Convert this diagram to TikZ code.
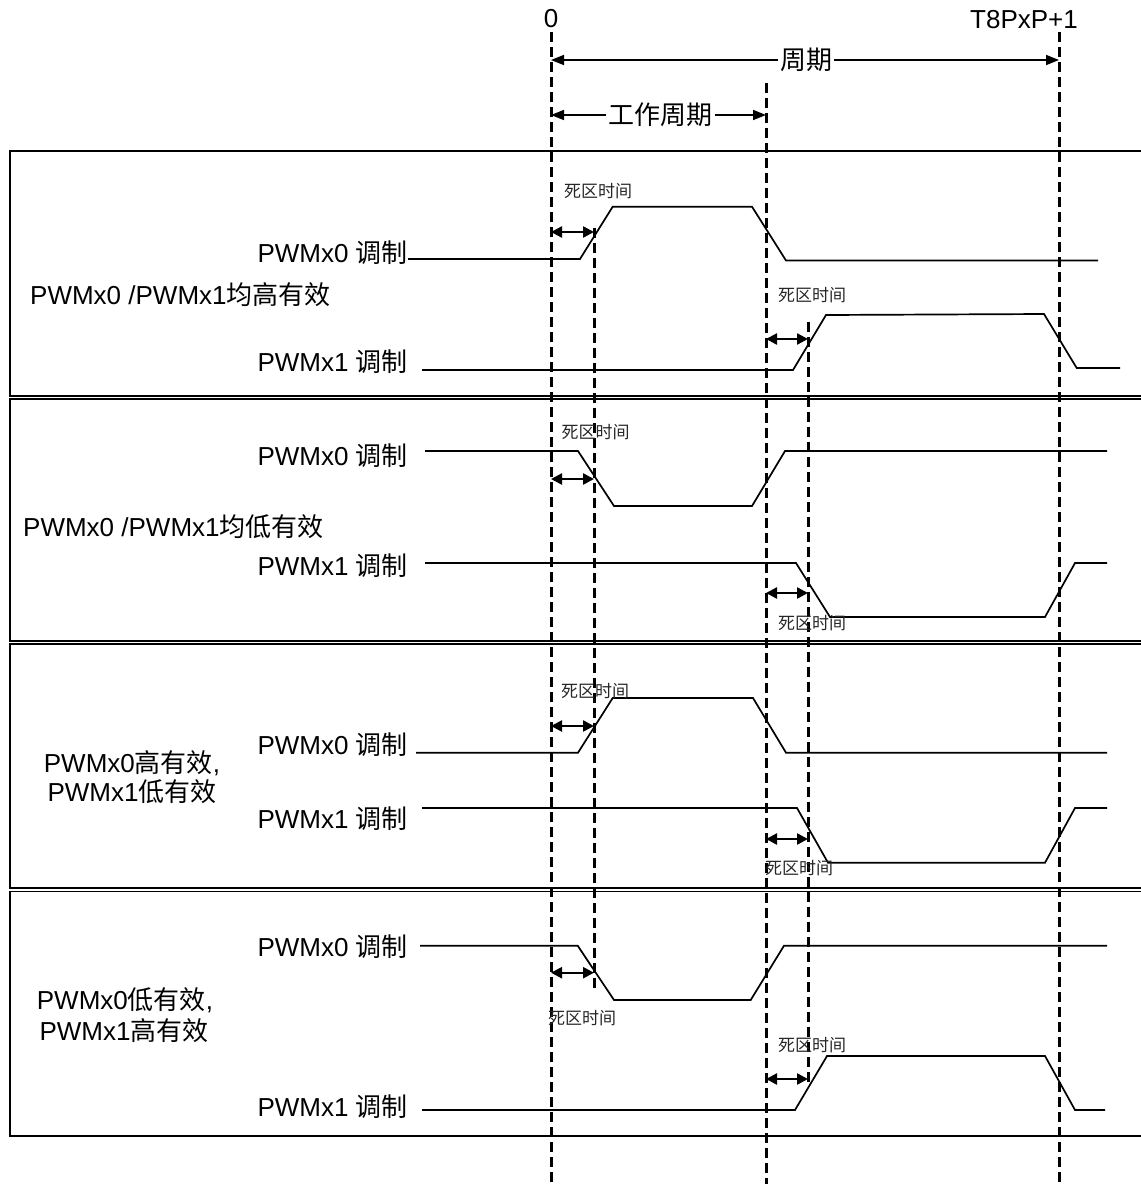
\documentclass[tikz,border=0pt]{standalone}
\usepackage{fontspec}
\setmainfont{Liberation Sans}
\newfontfamily\cjk{Noto Sans CJK SC}
\usetikzlibrary{arrows.meta}
\newcommand{\zh}[1]{{\cjk #1}}
\begin{document}
\begin{tikzpicture}[x=1pt,y=-1pt,
  wave/.style={line width=1.7pt, line join=miter},
  guide/.style={line width=3pt, dash pattern=on 10pt off 5pt},
  panel/.style={line width=1.6pt},
  dt/.style={line width=2.4pt, {Triangle[length=11pt,width=11pt]}-{Triangle[length=11pt,width=11pt]}},
  per/.style={line width=1.6pt, -{Triangle[length=13pt,width=10pt]}},
  lab/.style={font=\fontsize{26}{30}\selectfont, inner sep=0pt},
  zlab/.style={font=\cjk\fontsize{26}{30}\selectfont, inner xsep=2pt, inner ysep=0pt, fill=white},
  dtl/.style={font=\cjk\fontsize{17}{20}\selectfont, inner sep=0pt, text=black!85},
  ]
\useasboundingbox (0,0) rectangle (1141,1184);

% panels
\draw[panel] (10,151) rectangle (1175,396);
\draw[panel] (10,399) rectangle (1175,641);
\draw[panel] (10,644) rectangle (1175,888);
\draw[panel] (10,891.5) rectangle (1175,1136);

% guide lines
\draw[guide] (551,32) -- (551,1184);
\draw[guide] (1059,32) -- (1059,1184);
\draw[guide] (766,83) -- (766,1184);
\draw[guide] (594,228) -- (594,990);
\draw[guide] (808,322) -- (808,1085);

% top labels
\node[lab, anchor=base] (zero) at (551,27) {0};
\node[lab, anchor=base] (tend) at (1024,28) {T8PxP+1};

\node[zlab] (perl) at (806,60) {周期};
\coordinate (p0) at (551,60);
\coordinate (p1) at (1059,60);
\draw[per] (perl.west) -- (p0);
\draw[per] (perl.east) -- (p1);

\node[zlab] (dutyl) at (660.5,115) {工作周期};
\coordinate (d0) at (551,115);
\coordinate (d1) at (766,115);
\draw[per] (dutyl.west) -- (d0);
\draw[per] (dutyl.east) -- (d1);

% ---------- panel 1 ----------
\node[lab, anchor=base east] (a0) at (408,262.5) {PWMx0 \zh{调制}};
\node[lab, anchor=base east] (a1) at (408,371.5) {PWMx1 \zh{调制}};
\node[lab, anchor=base west] (am) at (30,304.5) {PWMx0 /PWMx1\zh{均高有效}};
\draw[wave] (408,259) -- (580,259) -- (612.7,206.7) -- (752,206.7) -- (786,260.5) -- (1098,260.5);
\draw[wave] (422,370) -- (793,370) -- (826,315) -- (1044,314) -- (1076.7,368) -- (1120,368);
\draw[dt] (551,232) -- (594,232);
\draw[dt] (766,339) -- (808,339);
\node[dtl] (a2) at (598,190.7) {死区时间};
\node[dtl] (a3) at (812,295) {死区时间};

% ---------- panel 2 ----------
\node[lab, anchor=base east] (b0) at (408,465.5) {PWMx0 \zh{调制}};
\node[lab, anchor=base east] (b1) at (408,575.5) {PWMx1 \zh{调制}};
\node[lab, anchor=base west] (bm) at (23,536.5) {PWMx0 /PWMx1\zh{均低有效}};
\draw[wave] (425,451) -- (578,451) -- (614,506) -- (752,506) -- (785,451) -- (1107,451);
\draw[wave] (425,563) -- (796,563) -- (830,617) -- (1045,617) -- (1075,563) -- (1107,563);
\draw[dt] (551,479) -- (594,479);
\draw[dt] (766,593) -- (808,593);
\node[dtl] (b2) at (595.5,432) {死区时间};
\node[dtl] (b3) at (812,623) {死区时间};

% ---------- panel 3 ----------
\node[lab, anchor=base east] (c0) at (408,754.5) {PWMx0 \zh{调制}};
\node[lab, anchor=base east] (c1) at (408,828.5) {PWMx1 \zh{调制}};
\node[lab, anchor=base] (cm1) at (132,772) {PWMx0\zh{高有效},};
\node[lab, anchor=base] (cm2) at (132,801) {PWMx1\zh{低有效}};
\draw[wave] (416,752.7) -- (578,752.7) -- (612.7,698) -- (753,698) -- (786,752.7) -- (1107,752.7);
\draw[wave] (422,808) -- (797,808) -- (828,862.7) -- (1045,862.7) -- (1075,808) -- (1107,808);
\draw[dt] (551,726) -- (594,726);
\draw[dt] (766,839) -- (808,839);
\node[dtl] (c2) at (595,690.7) {死区时间};
\node[dtl] (c3) at (799,868) {死区时间};

% ---------- panel 4 ----------
\node[lab, anchor=base east] (e0) at (408,956.5) {PWMx0 \zh{调制}};
\node[lab, anchor=base east] (e1) at (408,1116.5) {PWMx1 \zh{调制}};
\node[lab, anchor=base] (em1) at (125,1009.5) {PWMx0\zh{低有效},};
\node[lab, anchor=base] (em2) at (124,1040.5) {PWMx1\zh{高有效}};
\draw[wave] (420,945.7) -- (577.7,945.7) -- (614,1000) -- (750.7,1000) -- (784,945.7) -- (1107,945.7);
\draw[wave] (422,1110) -- (795,1110) -- (827,1056) -- (1045,1056) -- (1075,1110) -- (1105,1110);
\draw[dt] (551,972.7) -- (594,972.7);
\draw[dt] (766,1079) -- (808,1079);
\node[dtl] (e2) at (582,1018) {死区时间};
\node[dtl] (e3) at (812,1045) {死区时间};
\end{tikzpicture}
\end{document}
